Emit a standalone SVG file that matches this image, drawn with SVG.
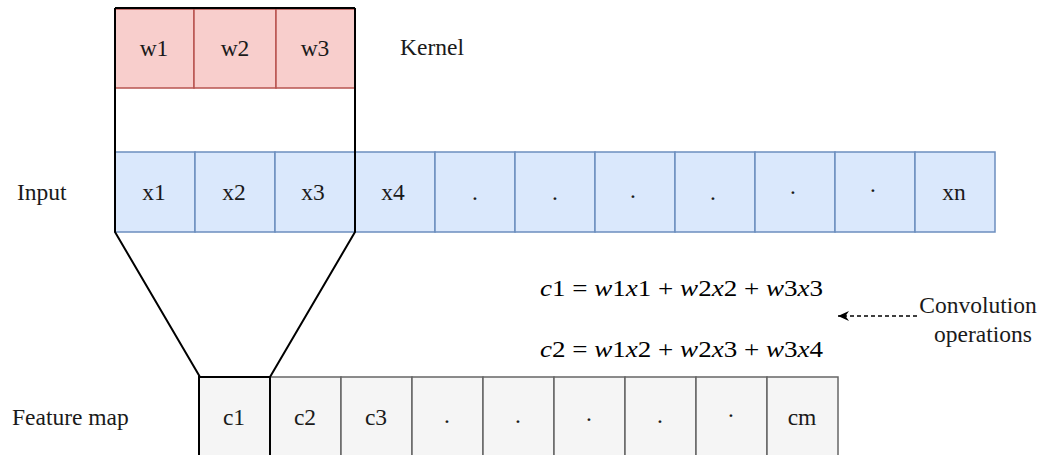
<svg xmlns="http://www.w3.org/2000/svg" width="1047" height="455" viewBox="0 0 1047 455">
<defs>
<style>
.t{font-family:"Liberation Serif","Times New Roman",serif;font-size:23.5px;fill:#1a1a1a;text-anchor:middle}
.l{font-family:"Liberation Serif","Times New Roman",serif;font-size:23.5px;fill:#1a1a1a}
.k{fill:#f8cecc;stroke:#b85450;stroke-width:1.5}
.x{fill:#dae8fc;stroke:#6c8ebf;stroke-width:1.5}
.f{fill:#f5f5f5;stroke:#666666;stroke-width:1.5}
.m{font-family:"Liberation Serif","Times New Roman",serif;font-size:23px;fill:#000}
.i{font-style:italic}
</style>
<marker id="ah" viewBox="0 0 12 12" refX="11" refY="6" markerWidth="12" markerHeight="12" orient="auto" markerUnits="userSpaceOnUse">
<path d="M0,1 L11,6 L0,11 L3.5,6 Z" fill="#000"/>
</marker>
</defs>
<rect width="1047" height="455" fill="#fff"/>
<g id="kernel">
<rect class="k" x="115" y="9" width="79" height="79"/>
<rect class="k" x="194" y="9" width="82" height="79"/>
<rect class="k" x="276" y="9" width="79" height="79"/>
<text class="t" x="154" y="56">w1</text>
<text class="t" x="235" y="56">w2</text>
<text class="t" x="315" y="56">w3</text>
</g>
<g id="kernel-label"><text class="l" x="400" y="55">Kernel</text></g>
<g id="input">
<rect class="x" x="115" y="152" width="80" height="80"/>
<rect class="x" x="195" y="152" width="80" height="80"/>
<rect class="x" x="275" y="152" width="80" height="80"/>
<rect class="x" x="355" y="152" width="80" height="80"/>
<rect class="x" x="435" y="152" width="80" height="80"/>
<rect class="x" x="515" y="152" width="80" height="80"/>
<rect class="x" x="595" y="152" width="80" height="80"/>
<rect class="x" x="675" y="152" width="80" height="80"/>
<rect class="x" x="755" y="152" width="80" height="80"/>
<rect class="x" x="835" y="152" width="80" height="80"/>
<rect class="x" x="915" y="152" width="80" height="80"/>
<text class="t" x="154" y="200">x1</text>
<text class="t" x="234" y="200">x2</text>
<text class="t" x="313" y="200">x3</text>
<text class="t" x="393" y="200">x4</text>
<text class="t" x="475" y="200">.</text>
<text class="t" x="555" y="200">.</text>
<text class="t" x="633" y="198">.</text>
<text class="t" x="713" y="200">.</text>
<text class="t" x="793" y="200">·</text>
<text class="t" x="873" y="198">·</text>
<text class="t" x="954" y="200">xn</text>
</g>
<g id="input-label"><text class="l" x="17" y="200">Input</text></g>
<g id="feature-map">
<rect class="f" x="199" y="377" width="71" height="82"/>
<rect class="f" x="270" y="377" width="71" height="82"/>
<rect class="f" x="341" y="377" width="71" height="82"/>
<rect class="f" x="412" y="377" width="71" height="82"/>
<rect class="f" x="483" y="377" width="71" height="82"/>
<rect class="f" x="554" y="377" width="71" height="82"/>
<rect class="f" x="625" y="377" width="71" height="82"/>
<rect class="f" x="696" y="377" width="71" height="82"/>
<rect class="f" x="767" y="377" width="71" height="82"/>
<rect x="199" y="377" width="71" height="82" fill="none" stroke="#000" stroke-width="2"/>
<text class="t" x="234" y="425">c1</text>
<text class="t" x="305" y="425">c2</text>
<text class="t" x="376" y="425">c3</text>
<text class="t" x="447" y="423">.</text>
<text class="t" x="518" y="423">.</text>
<text class="t" x="589" y="421">.</text>
<text class="t" x="660" y="423">.</text>
<text class="t" x="731" y="423">·</text>
<text class="t" x="802" y="425">cm</text>
</g>
<g id="feature-label"><text class="l" x="12" y="425">Feature map</text></g>
<g id="equations">
<text class="m" x="540" y="296" textLength="283" lengthAdjust="spacingAndGlyphs"><tspan class="i">c</tspan>1 = <tspan class="i">w</tspan>1<tspan class="i">x</tspan>1 + <tspan class="i">w</tspan>2<tspan class="i">x</tspan>2 + <tspan class="i">w</tspan>3<tspan class="i">x</tspan>3</text>
<text class="m" x="540" y="357" textLength="283" lengthAdjust="spacingAndGlyphs"><tspan class="i">c</tspan>2 = <tspan class="i">w</tspan>1<tspan class="i">x</tspan>2 + <tspan class="i">w</tspan>2<tspan class="i">x</tspan>3 + <tspan class="i">w</tspan>3<tspan class="i">x</tspan>4</text>
</g>
<g id="conv-label">
<text class="t" x="978" y="313">Convolution</text>
<text class="t" x="983" y="342">operations</text>
</g>
<g id="connectors" fill="none" stroke="#000">
<path d="M115,8 L355,8" stroke-width="2"/>
<path d="M115,8 L115,232 L200,377" stroke-width="2"/>
<path d="M355,8 L355,232 L270,377" stroke-width="2"/>
<path d="M917,316 L838,316" stroke-width="1.5" stroke-dasharray="4,3" marker-end="url(#ah)"/>
</g>
</svg>
